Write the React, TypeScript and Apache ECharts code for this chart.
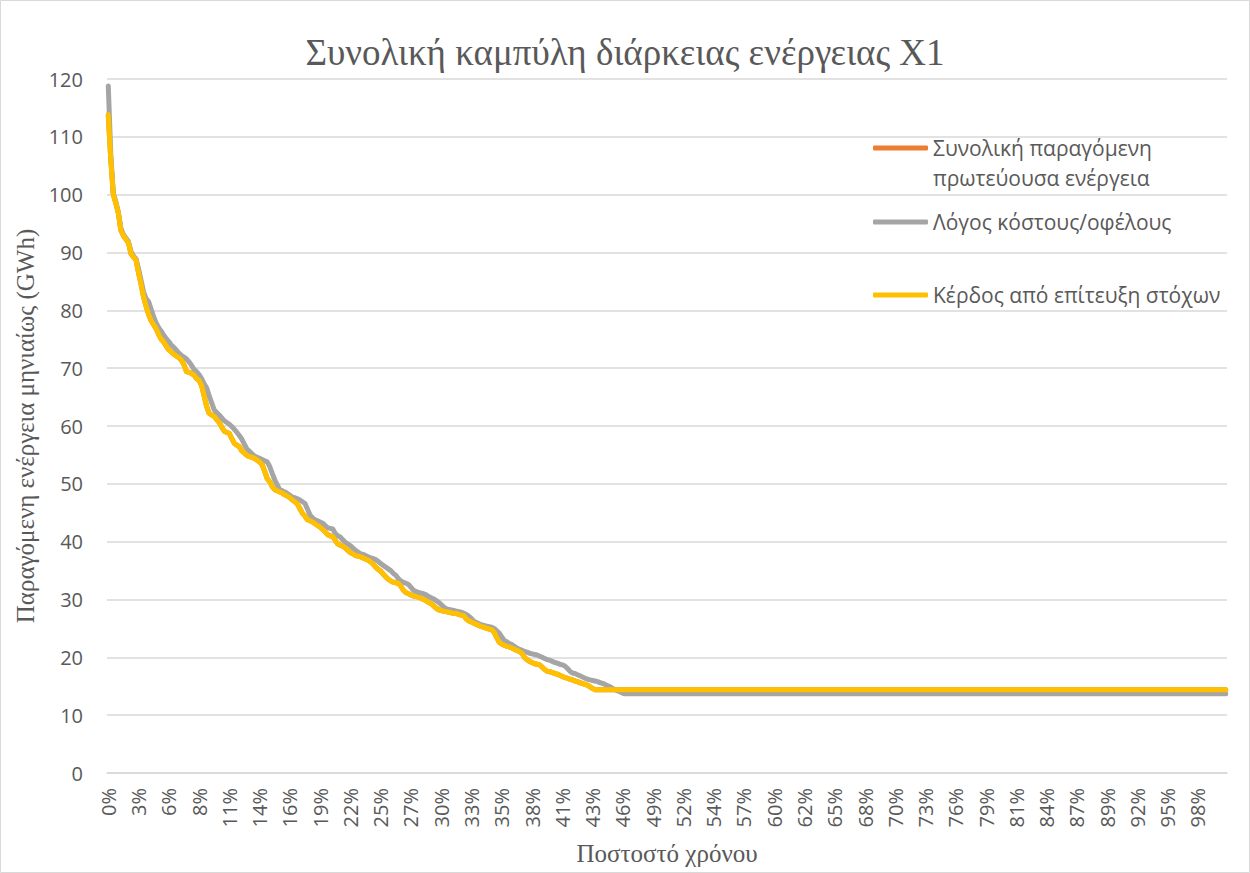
import React, { useEffect, useRef } from 'react';
import * as echarts from 'echarts';

const MONTHS = 444;

const tickLabels = [
  '0%', '3%', '6%', '8%', '11%', '14%', '16%', '19%', '22%', '25%', '27%', '30%',
  '33%', '35%', '38%', '41%', '43%', '46%', '49%', '52%', '54%', '57%', '60%', '62%',
  '65%', '68%', '70%', '73%', '76%', '79%', '81%', '84%', '87%', '89%', '92%', '95%', '98%',
];

const seriesNames = [
  'Συνολική παραγόμενη πρωτεύουσα ενέργεια',
  'Λόγος κόστους/οφέλους',
  'Κέρδος από επίτευξη στόχων',
];

// Κέρδος από επίτευξη στόχων (declining part, then flat)
const targetGainHead = [
  113.8, 106, 100, 98.5, 96.8, 93.8, 92.9, 92.3, 91.7, 89.8,
  89.2, 88.7, 86.5, 84.5, 82.3, 80.7, 79.3, 78.2, 77.5, 76.8,
  75.8, 75.0, 74.5, 73.8, 73.2, 72.8, 72.4, 72.1, 71.8, 71.4,
  70.6, 69.4, 69.3, 69.1, 68.8, 68.2, 67.9, 67.0, 65.2, 63.4,
  62.2, 61.9, 61.7, 61.1, 60.6, 59.8, 59.1, 58.9, 58.7, 57.8,
  57.0, 56.7, 56.4, 55.7, 55.3, 54.9, 54.7, 54.6, 54.4, 54.1,
  53.8, 53.3, 52.2, 50.9, 50.4, 49.5, 49.0, 48.8, 48.6, 48.4,
  48.1, 47.9, 47.6, 47.2, 46.9, 46.5, 45.7, 44.9, 44.4, 43.8,
  43.6, 43.4, 43.1, 42.8, 42.5, 42.1, 41.7, 41.2, 41.0, 40.9,
  40.2, 39.6, 39.4, 39.2, 38.9, 38.5, 38.1, 37.9, 37.6, 37.5,
  37.4, 37.2, 37.0, 36.8, 36.5, 36.1, 35.6, 35.2, 34.9, 34.4,
  33.9, 33.5, 33.2, 33.0, 32.9, 32.8, 32.3, 31.6, 31.2, 31.0,
  30.8, 30.6, 30.5, 30.4, 30.2, 30.0, 29.8, 29.5, 29.3, 28.9,
  28.5, 28.2, 28.1, 28.0, 27.9, 27.8, 27.7, 27.6, 27.6, 27.4,
  27.3, 27.2, 26.6, 26.3, 26.1, 25.9, 25.7, 25.5, 25.3, 25.2,
  25.0, 24.9, 24.8, 24.3, 23.4, 22.6, 22.3, 22.1, 21.9, 21.8,
  21.6, 21.4, 21.2, 21.0, 20.7, 20.0, 19.6, 19.3, 19.1, 18.9,
  18.8, 18.7, 18.3, 17.9, 17.6, 17.5, 17.4, 17.2, 17.1, 16.9,
  16.7, 16.5, 16.4, 16.2, 16.1, 15.9, 15.8, 15.6, 15.5, 15.3,
  15.2, 14.9, 14.6,
];
const targetGainFlat = 14.4;

// Λόγος κόστους/οφέλους (declining part, then flat)
const costBenefitHead = [
  118.8, 107, 100.3, 98.8, 97.0, 94.2, 93.1, 92.5, 91.9, 90.2,
  89.4, 88.9, 87.2, 85.2, 83.2, 82.0, 81.5, 80.2, 78.9, 77.8,
  77.0, 76.4, 75.7, 75.1, 74.6, 74.0, 73.6, 73.1, 72.6, 72.2,
  71.9, 71.6, 71.1, 70.5, 69.8, 69.4, 68.9, 68.2, 67.3, 66.6,
  65.2, 64.0, 62.8, 62.3, 61.9, 61.4, 60.9, 60.6, 60.3, 59.9,
  59.4, 58.9, 58.3, 57.7, 56.8, 56.0, 55.6, 55.2, 54.8, 54.6,
  54.4, 54.2, 54.0, 53.8, 53.0, 51.8, 50.7, 49.8, 49.0, 48.8,
  48.6, 48.3, 48.0, 47.7, 47.6, 47.4, 47.2, 46.9, 46.6, 45.6,
  44.6, 44.1, 43.8, 43.6, 43.4, 43.2, 42.8, 42.4, 42.3, 42.2,
  41.4, 41.0, 40.8, 40.3, 39.9, 39.6, 39.3, 38.9, 38.5, 38.2,
  37.9, 37.8, 37.6, 37.4, 37.2, 37.1, 36.9, 36.6, 36.2, 35.9,
  35.6, 35.3, 35.0, 34.5, 34.2, 33.6, 33.2, 33.0, 32.8, 32.6,
  32.1, 31.6, 31.4, 31.2, 31.1, 31.0, 30.8, 30.5, 30.3, 30.1,
  29.8, 29.5, 29.1, 28.7, 28.4, 28.3, 28.2, 28.1, 28.0, 27.9,
  27.8, 27.6, 27.4, 27.1, 26.7, 26.2, 26.0, 25.8, 25.6, 25.5,
  25.4, 25.3, 25.2, 25.0, 24.6, 24.2, 23.5, 22.9, 22.7, 22.4,
  22.2, 21.9, 21.6, 21.4, 21.2, 21.0, 20.9, 20.7, 20.6, 20.5,
  20.4, 20.2, 20.0, 19.8, 19.6, 19.5, 19.3, 19.1, 19.0, 18.8,
  18.7, 18.5, 18.1, 17.6, 17.3, 17.2, 17.0, 16.8, 16.6, 16.4,
  16.2, 16.1, 16.0, 15.9, 15.8, 15.6, 15.5, 15.3, 15.1, 14.9,
  14.6, 14.4, 14.2, 14.0, 13.8,
];
const costBenefitFlat = 13.7;

// Total primary energy coincides with the target-gain curve (hidden beneath it)
const totalPrimaryHead = targetGainHead;
const totalPrimaryFlat = targetGainFlat;

const colors = ['#ED7D31', '#A5A5A5', '#FFC000'];

function withFlatTail(head: number[], flat: number): number[] {
  return head.concat(new Array(MONTHS - head.length).fill(flat));
}

export default function App() {
  const ref = useRef<HTMLDivElement>(null);

  useEffect(() => {
    document.body.style.margin = '0';
    if (!ref.current) return;
    const chart = echarts.init(ref.current, undefined, { renderer: 'svg' });
    const months = Array.from({ length: MONTHS }, (_, i) => String(i + 1));
    const labelColor = '#595959';
    const sans = '"Open Sans", "Noto Sans", sans-serif';
    const serif = '"Liberation Serif", "DejaVu Serif", serif';

    const lineSeries = (name: string, data: number[], color: string, z: number) => ({
      name,
      type: 'line',
      data,
      showSymbol: false,
      symbol: 'none',
      z,
      lineStyle: { color, width: 5, cap: 'round', join: 'round' },
      itemStyle: { color },
      emphasis: { disabled: true },
    });

    const legendBase = {
      orient: 'vertical',
      left: 868,
      itemWidth: 55,
      itemHeight: 5,
      icon: 'roundRect',
      itemGap: 0,
      selectedMode: false,
      textStyle: { color: labelColor, fontSize: 21, fontFamily: sans, lineHeight: 30 },
    };

    chart.setOption({
      animation: false,
      backgroundColor: '#ffffff',
      title: {
        text: 'Συνολική καμπύλη διάρκειας ενέργειας Χ1',
        left: 'center',
        top: 29,
        textStyle: { color: labelColor, fontSize: 37, fontWeight: 'normal', fontFamily: serif },
      },
      legend: [
        {
          ...legendBase,
          top: 98,
          data: [seriesNames[0]],
          formatter: () => ' \nΣυνολική παραγόμενη\nπρωτεύουσα ενέργεια',
        },
        { ...legendBase, top: 202, data: [seriesNames[1]] },
        { ...legendBase, top: 275, data: [seriesNames[2]] },
      ],
      grid: { left: 107, right: 23, top: 79, bottom: 100, containLabel: false },
      xAxis: {
        type: 'category',
        data: months,
        boundaryGap: true,
        name: 'Ποστοστό χρόνου',
        nameLocation: 'middle',
        nameGap: 68,
        nameTextStyle: { color: labelColor, fontSize: 25, fontFamily: serif },
        axisLine: { show: true, lineStyle: { color: '#d9d9d9', width: 1.5 } },
        axisTick: { show: false },
        axisLabel: {
          interval: 11,
          rotate: 90,
          margin: 15,
          color: labelColor,
          fontSize: 20,
          fontFamily: sans,
          formatter: (_v: string, idx: number) => tickLabels[idx / 12] ?? '',
        },
        splitLine: { show: false },
      },
      yAxis: {
        type: 'value',
        min: 0,
        max: 120,
        interval: 10,
        name: 'Παραγόμενη ενέργεια μηνιαίως (GWh)',
        nameLocation: 'middle',
        nameGap: 67,
        nameTextStyle: { color: labelColor, fontSize: 25, fontFamily: serif },
        axisLine: { show: false },
        axisTick: { show: false },
        axisLabel: { color: labelColor, fontSize: 20, fontFamily: sans, margin: 24 },
        splitLine: { lineStyle: { color: '#d9d9d9', width: 1.5 } },
      },
      series: [
        lineSeries(seriesNames[0], withFlatTail(totalPrimaryHead, totalPrimaryFlat), colors[0], 2),
        lineSeries(seriesNames[1], withFlatTail(costBenefitHead, costBenefitFlat), colors[1], 3),
        lineSeries(seriesNames[2], withFlatTail(targetGainHead, targetGainFlat), colors[2], 4),
      ],
      graphic: [
        {
          type: 'rect',
          shape: { x: 0.5, y: 0.5, width: 1249, height: 872 },
          style: { fill: 'none', stroke: '#d9d9d9', lineWidth: 1 },
          silent: true,
        },
      ],
    });

    return () => chart.dispose();
  }, []);

  return <div ref={ref} style={{ width: 1250, height: 873 }} />;
}
